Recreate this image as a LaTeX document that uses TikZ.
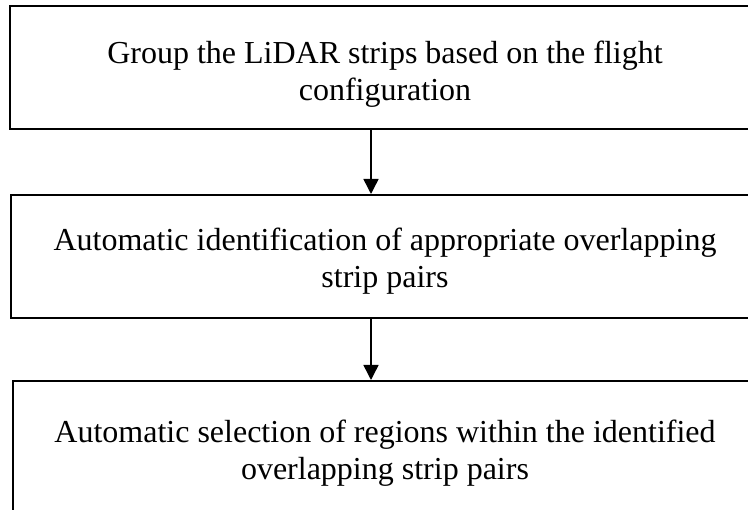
\documentclass[tikz,border=0pt]{standalone}
\usepackage{fontspec}
\setmainfont{Liberation Serif}
\usetikzlibrary{arrows.meta}
\begin{document}
\begin{tikzpicture}[x=1pt,y=-1pt,
  stepbox/.style={draw=black, line width=2pt, rectangle, inner sep=0pt},
  steptext/.style={align=center, inner sep=0pt, font=\fontsize{32}{36.8}\selectfont},
  flow/.style={line width=1.5pt, -{Triangle[length=15pt,width=15pt]}}]
  % page frame
  \clip (0,0) rectangle (748,510);
  % step boxes (extend past the right and bottom page edges)
  \node[stepbox, minimum width=750pt, minimum height=123pt] (b1) at (385,67.5) {};
  \node[stepbox, minimum width=748pt, minimum height=123pt] (b2) at (385,256.5) {};
  \node[stepbox, minimum width=744pt, minimum height=149pt] (b3) at (385,455.5) {};
  % step labels
  \node[steptext] (t1) at (385,74) {Group the LiDAR strips based on the flight\\configuration};
  \node[steptext] (t2) at (385,261) {Automatic identification of appropriate overlapping\\strip pairs};
  \node[steptext] (t3) at (385,453) {Automatic selection of regions within the identified\\overlapping strip pairs};
  % connectors
  \coordinate (ax) at (371,0);
  \draw[flow] (b1.south -| ax) -- (b2.north -| ax);
  \draw[flow] (b2.south -| ax) -- (b3.north -| ax);
\end{tikzpicture}
\end{document}
